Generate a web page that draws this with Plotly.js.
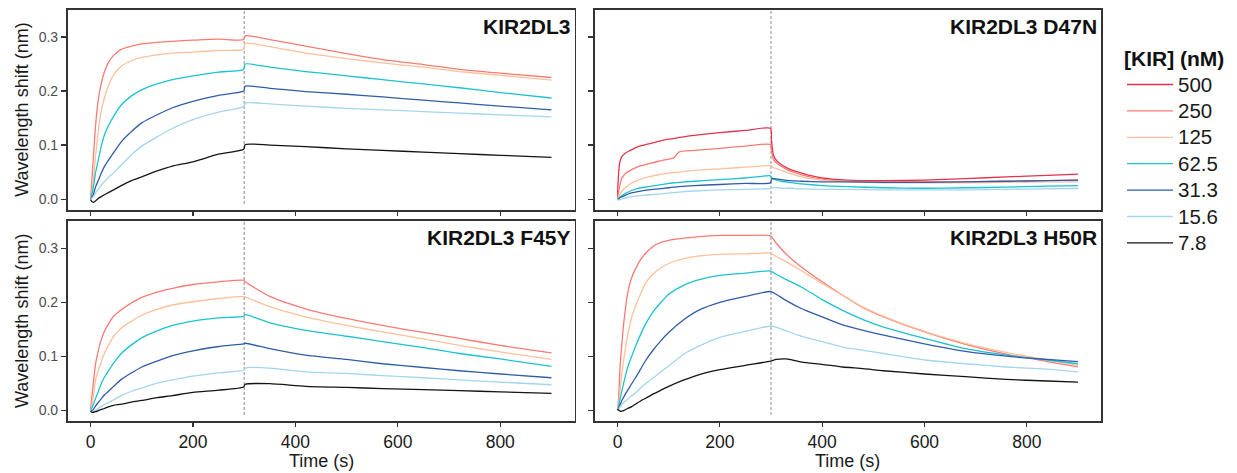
<!DOCTYPE html>
<html>
<head>
<meta charset="utf-8">
<script src="https://cdn.plot.ly/plotly-3.0.1.min.js"></script>
<style>
html,body{margin:0;padding:0;background:#ffffff;}
#chart{width:1237px;height:473px;}
</style>
</head>
<body>
<div id="chart"></div>
<script>
// ---------------- DATA ----------------
const concentrations = ['500', '250', '125', '62.5', '31.3', '15.6', '7.8'];
const panelTitles = ['KIR2DL3', 'KIR2DL3 D47N', 'KIR2DL3 F45Y', 'KIR2DL3 H50R'];
const xTickVals = [0, 200, 400, 600, 800];
const yTickVals = [0, 0.1, 0.2, 0.3];
const injectionEnd = 300;        // end of association phase (s)
const dashedLineBottom = -0.009;  // lower end of the dashed marker (nm)

// KIR2DL3
const timeWT = [0, 3, 6, 10, 15, 20, 27, 35, 45, 60, 80, 100, 130, 160, 200, 250, 299, 302, 350, 420, 500, 570, 650, 720, 800, 900];
const wt250 = [0, 0.04, 0.085, 0.138, 0.183, 0.21, 0.235, 0.253, 0.266, 0.277, 0.283, 0.287, 0.29, 0.292, 0.294, 0.296, 0.295, 0.302, 0.295, 0.283, 0.269, 0.258, 0.249, 0.24, 0.233, 0.225];
const wt125 = [0, 0.015, 0.04, 0.082, 0.125, 0.158, 0.187, 0.21, 0.23, 0.246, 0.256, 0.262, 0.267, 0.27, 0.272, 0.275, 0.277, 0.288, 0.282, 0.27, 0.26, 0.252, 0.244, 0.236, 0.229, 0.22];
const wt62_5 = [0, 0.01, 0.025, 0.05, 0.072, 0.094, 0.118, 0.136, 0.153, 0.174, 0.191, 0.202, 0.213, 0.221, 0.228, 0.235, 0.24, 0.25, 0.244, 0.236, 0.228, 0.221, 0.213, 0.206, 0.197, 0.187];
const wt31_3 = [0, 0.003, 0.01, 0.023, 0.034, 0.046, 0.06, 0.072, 0.086, 0.106, 0.125, 0.141, 0.156, 0.169, 0.181, 0.192, 0.2, 0.209, 0.205, 0.199, 0.194, 0.189, 0.183, 0.178, 0.172, 0.165];
const wt15_6 = [0, 0.002, 0.005, 0.012, 0.018, 0.025, 0.032, 0.04, 0.049, 0.063, 0.082, 0.098, 0.115, 0.131, 0.147, 0.161, 0.171, 0.178, 0.176, 0.172, 0.168, 0.165, 0.162, 0.159, 0.156, 0.152];
const wt7_8 = [-0.001, -0.005, -0.006, -0.003, 0.001, 0.004, 0.008, 0.012, 0.017, 0.025, 0.034, 0.041, 0.052, 0.061, 0.069, 0.083, 0.092, 0.101, 0.1, 0.097, 0.093, 0.09, 0.087, 0.084, 0.081, 0.077];

// KIR2DL3 D47N
const timeD47N = [0, 1, 4, 8, 15, 25, 40, 60, 80, 100, 110, 120, 150, 200, 250, 299, 301, 305, 312, 320, 335, 360, 400, 450, 520, 600, 680, 760, 840, 900];
const d47n500 = [0.003, 0.03, 0.066, 0.078, 0.085, 0.09, 0.097, 0.102, 0.107, 0.111, 0.112, 0.114, 0.118, 0.123, 0.127, 0.131, 0.108, 0.08, 0.07, 0.064, 0.056, 0.048, 0.039, 0.035, 0.034, 0.035, 0.038, 0.041, 0.044, 0.046];
const d47n250 = [0.002, 0.008, 0.023, 0.038, 0.047, 0.053, 0.06, 0.065, 0.07, 0.074, 0.076, 0.087, 0.09, 0.094, 0.098, 0.101, 0.09, 0.073, 0.066, 0.061, 0.053, 0.045, 0.037, 0.033, 0.032, 0.032, 0.032, 0.033, 0.034, 0.035];
const d47n125 = [0, 0.002, 0.008, 0.014, 0.021, 0.028, 0.035, 0.041, 0.045, 0.048, 0.049, 0.05, 0.053, 0.056, 0.059, 0.062, 0.061, 0.058, 0.056, 0.053, 0.048, 0.041, 0.035, 0.032, 0.03, 0.03, 0.03, 0.031, 0.032, 0.032];
const d47n62_5 = [0, 0, 0.003, 0.006, 0.01, 0.015, 0.02, 0.023, 0.026, 0.029, 0.03, 0.031, 0.033, 0.036, 0.039, 0.043, 0.04, 0.037, 0.035, 0.033, 0.031, 0.028, 0.025, 0.023, 0.021, 0.02, 0.021, 0.022, 0.024, 0.025];
const d47n31_3 = [0, 0, 0.002, 0.004, 0.007, 0.011, 0.014, 0.017, 0.019, 0.021, 0.022, 0.023, 0.025, 0.027, 0.029, 0.03, 0.037, 0.038, 0.037, 0.036, 0.034, 0.033, 0.032, 0.032, 0.031, 0.031, 0.032, 0.033, 0.034, 0.035];
const d47n15_6 = [-0.002, -0.002, -0.001, 0, 0.002, 0.004, 0.006, 0.008, 0.009, 0.011, 0.012, 0.013, 0.015, 0.017, 0.018, 0.02, 0.021, 0.021, 0.021, 0.02, 0.02, 0.019, 0.018, 0.018, 0.017, 0.017, 0.017, 0.018, 0.019, 0.02];

// KIR2DL3 F45Y
const timeF45Y = [0, 3, 6, 10, 15, 20, 27, 35, 45, 60, 80, 100, 130, 160, 200, 250, 299, 302, 350, 420, 500, 570, 650, 720, 800, 900];
const f45y250 = [0, 0.028, 0.055, 0.087, 0.11, 0.128, 0.146, 0.16, 0.174, 0.186, 0.199, 0.209, 0.219, 0.226, 0.233, 0.238, 0.241, 0.238, 0.211, 0.188, 0.17, 0.157, 0.144, 0.133, 0.12, 0.106];
const f45y125 = [0, 0.012, 0.03, 0.057, 0.073, 0.087, 0.105, 0.12, 0.137, 0.152, 0.165, 0.176, 0.187, 0.195, 0.201, 0.207, 0.211, 0.21, 0.192, 0.173, 0.157, 0.145, 0.132, 0.12, 0.108, 0.094];
const f45y62_5 = [0, 0.005, 0.012, 0.022, 0.034, 0.047, 0.061, 0.073, 0.087, 0.105, 0.121, 0.134, 0.147, 0.157, 0.165, 0.171, 0.174, 0.177, 0.162, 0.148, 0.137, 0.127, 0.116, 0.105, 0.095, 0.081];
const f45y31_3 = [-0.002, -0.001, 0.002, 0.008, 0.014, 0.02, 0.028, 0.035, 0.044, 0.057, 0.069, 0.08, 0.091, 0.101, 0.11, 0.118, 0.123, 0.124, 0.114, 0.102, 0.094, 0.086, 0.079, 0.073, 0.067, 0.06];
const f45y15_6 = [-0.003, -0.003, -0.002, 0, 0.003, 0.006, 0.01, 0.014, 0.019, 0.027, 0.035, 0.041, 0.05, 0.056, 0.063, 0.069, 0.074, 0.078, 0.078, 0.071, 0.068, 0.064, 0.06, 0.056, 0.052, 0.047];
const f45y7_8 = [-0.002, -0.004, -0.004, -0.003, -0.001, 0.001, 0.003, 0.006, 0.009, 0.011, 0.015, 0.018, 0.023, 0.027, 0.033, 0.037, 0.043, 0.048, 0.049, 0.044, 0.042, 0.04, 0.038, 0.036, 0.034, 0.031];

// KIR2DL3 H50R
const timeH50R = [0, 2, 5, 8, 12, 16, 20, 27, 35, 45, 55, 70, 85, 100, 130, 160, 200, 250, 299, 310, 330, 360, 400, 440, 480, 520, 600, 680, 760, 840, 900];
const h50r250 = [0, 0.02, 0.08, 0.118, 0.16, 0.192, 0.218, 0.244, 0.262, 0.279, 0.291, 0.304, 0.311, 0.315, 0.319, 0.322, 0.324, 0.324, 0.323, 0.31, 0.289, 0.265, 0.238, 0.213, 0.19, 0.173, 0.145, 0.122, 0.104, 0.09, 0.08];
const h50r125 = [0, 0.01, 0.038, 0.063, 0.092, 0.118, 0.14, 0.17, 0.193, 0.215, 0.236, 0.253, 0.264, 0.272, 0.281, 0.286, 0.289, 0.29, 0.291, 0.285, 0.275, 0.258, 0.235, 0.213, 0.191, 0.174, 0.146, 0.124, 0.107, 0.093, 0.083];
const h50r62_5 = [0, 0.006, 0.02, 0.034, 0.05, 0.066, 0.08, 0.098, 0.118, 0.14, 0.16, 0.183, 0.2, 0.215, 0.232, 0.242, 0.25, 0.254, 0.258, 0.252, 0.242, 0.228, 0.205, 0.185, 0.168, 0.154, 0.133, 0.114, 0.102, 0.093, 0.086];
const h50r31_3 = [0, 0.003, 0.01, 0.017, 0.024, 0.031, 0.037, 0.048, 0.06, 0.076, 0.092, 0.112, 0.129, 0.144, 0.168, 0.186, 0.2, 0.211, 0.22, 0.215, 0.203, 0.188, 0.173, 0.158, 0.148, 0.139, 0.123, 0.109, 0.1, 0.094, 0.09];
const h50r15_6 = [0, 0.002, 0.006, 0.01, 0.014, 0.017, 0.02, 0.026, 0.032, 0.041, 0.049, 0.06, 0.071, 0.082, 0.104, 0.119, 0.135, 0.146, 0.156, 0.154, 0.147, 0.137, 0.127, 0.117, 0.111, 0.105, 0.093, 0.086, 0.08, 0.076, 0.071];
const h50r7_8 = [0.002, 0, -0.002, -0.002, -0.001, 0.001, 0.003, 0.006, 0.011, 0.017, 0.022, 0.03, 0.037, 0.044, 0.056, 0.066, 0.075, 0.083, 0.091, 0.094, 0.095, 0.089, 0.085, 0.08, 0.077, 0.073, 0.067, 0.062, 0.057, 0.054, 0.052];

// ---------------- STYLE ----------------
const concColors = {
  '500': '#E2334D', '250': '#FA7A73', '125': '#FDC09A', '62.5': '#1CC2D0',
  '31.3': '#2F5DA8', '15.6': '#A3D6EC', '7.8': '#141414'
};
const FONT = 'Liberation Sans, Arial, Helvetica, sans-serif';
const W = 1237, H = 473;
// pixel boxes of the four panels [left, top, right, bottom]
const panelBoxes = [[67.5, 9.5, 574.5, 210], [594.5, 9.5, 1101, 210], [67.5, 221, 574.5, 421], [594.5, 221, 1101, 421]];
const yRange = [-0.0202, 0.3508];
const xRange = [-45, 945];

// ---------------- BUILD ----------------
const panels = [
  {title: panelTitles[0], time: timeWT, series: {'250': wt250, '125': wt125, '62.5': wt62_5, '31.3': wt31_3, '15.6': wt15_6, '7.8': wt7_8}},
  {title: panelTitles[1], time: timeD47N, series: {'500': d47n500, '250': d47n250, '125': d47n125, '62.5': d47n62_5, '31.3': d47n31_3, '15.6': d47n15_6}},
  {title: panelTitles[2], time: timeF45Y, series: {'250': f45y250, '125': f45y125, '62.5': f45y62_5, '31.3': f45y31_3, '15.6': f45y15_6, '7.8': f45y7_8}},
  {title: panelTitles[3], time: timeH50R, series: {'250': h50r250, '125': h50r125, '62.5': h50r62_5, '31.3': h50r31_3, '15.6': h50r15_6, '7.8': h50r7_8}}
];

const traces = [];
const shown = {};
const layout = {
  width: W, height: H,
  margin: {l: 0, r: 0, t: 0, b: 0},
  paper_bgcolor: '#ffffff', plot_bgcolor: '#ffffff',
  font: {family: FONT, color: '#1a1a1a'},
  showlegend: true,
  legend: {
    x: 1122 / W, y: 1 - 39 / H, xanchor: 'left', yanchor: 'top',
    bgcolor: 'rgba(0,0,0,0)', borderwidth: 0,
    font: {family: FONT, size: 18, color: '#1a1a1a'},
    title: {text: '<b>[KIR] (nM)</b>', font: {family: FONT, size: 21, color: '#111111'}},
    traceorder: 'normal', tracegroupgap: 0, itemwidth: 46
  },
  annotations: [], shapes: []
};

panels.forEach((p, i) => {
  const s = i === 0 ? '' : String(i + 1);
  const b = panelBoxes[i];
  const isBottom = i >= 2, isLeft = (i % 2) === 0;
  layout['xaxis' + s] = {
    domain: [b[0] / W, b[2] / W], anchor: 'y' + s, range: xRange,
    tickmode: 'array', tickvals: xTickVals, showticklabels: isBottom,
    ticks: 'outside', ticklen: 4, tickwidth: 1.1, tickcolor: '#333333',
    showline: true, mirror: true, linecolor: '#333333', linewidth: 1.6,
    showgrid: false, zeroline: false, automargin: false, fixedrange: true,
    tickfont: {family: FONT, size: 17.5, color: '#1a1a1a'}
  };
  layout['yaxis' + s] = {
    domain: [1 - b[3] / H, 1 - b[1] / H], anchor: 'x' + s, range: yRange,
    tickmode: 'array', tickvals: yTickVals, tickformat: '.1f', showticklabels: isLeft,
    ticks: 'outside', ticklen: 5, tickwidth: 1.1, tickcolor: '#333333',
    showline: true, mirror: true, linecolor: '#333333', linewidth: 1.6,
    showgrid: false, zeroline: false, automargin: false, fixedrange: true,
    tickfont: {family: FONT, size: 14, color: '#4D4D4D'}
  };
  // dashed marker at end of association
  layout.shapes.push({
    type: 'line', xref: 'x' + s, yref: 'y' + s,
    x0: injectionEnd, x1: injectionEnd, y0: dashedLineBottom, y1: yRange[1],
    line: {color: '#8C8C8C', width: 1, dash: '3px,2px'}, layer: 'below'
  });
  // panel label
  layout.annotations.push({
    text: '<b>' + p.title + '</b>', xref: 'x' + s + ' domain', yref: 'y' + s + ' domain',
    x: 1, y: 1, xanchor: 'right', yanchor: 'top', xshift: -2, yshift: -3,
    showarrow: false, font: {family: FONT, size: 21, color: '#111111'}
  });
  if (isLeft) {
    layout.annotations.push({
      text: 'Wavelength shift (nm)', xref: 'paper', yref: 'paper',
      x: 22 / W, y: 1 - (b[1] + b[3]) / 2 / H, xanchor: 'center', yanchor: 'middle',
      textangle: -90, showarrow: false, font: {family: FONT, size: 18, color: '#1a1a1a'}
    });
  }
  if (isBottom) {
    layout.annotations.push({
      text: 'Time (s)', xref: 'paper', yref: 'paper',
      x: (b[0] + b[2]) / 2 / W, y: 1 - 461 / H, xanchor: 'center', yanchor: 'middle',
      showarrow: false, font: {family: FONT, size: 18, color: '#1a1a1a'}
    });
  }
  concentrations.forEach((c, k) => {
    if (!p.series[c]) return;
    traces.push({
      type: 'scatter', mode: 'lines', x: p.time, y: p.series[c],
      xaxis: 'x' + s, yaxis: 'y' + s,
      name: '<span style="font-size:20.5px">' + c + '</span>',
      line: {color: concColors[c], width: 1.3, shape: 'spline', smoothing: 0.6},
      showlegend: !shown[c], legendrank: k + 1, hoverinfo: 'skip'
    });
    shown[c] = true;
  });
});

Plotly.newPlot('chart', traces, layout, {staticPlot: true, displayModeBar: false});
</script>
</body>
</html>
